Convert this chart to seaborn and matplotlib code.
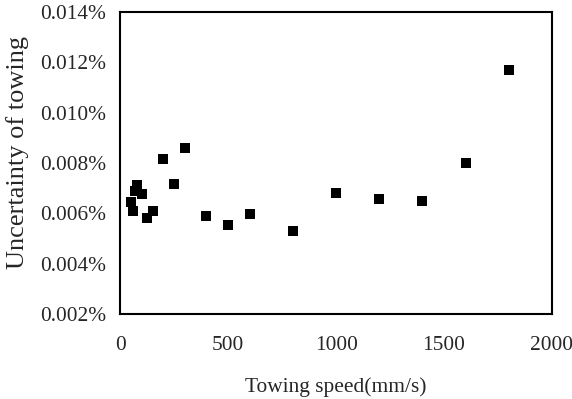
import numpy as np
import pandas as pd
import seaborn as sns
import matplotlib.pyplot as plt
from matplotlib.ticker import FuncFormatter

sns.set_style("white")
plt.rcParams['font.family'] = ['Liberation Serif', 'DejaVu Serif']

# towing speed (mm/s) and uncertainty (%)
speed = [50, 60, 70, 80, 100, 125, 150, 200, 250, 300, 400, 500, 600, 800,
         1000, 1200, 1400, 1600, 1800]
uncertainty = [0.00644, 0.00611, 0.00688, 0.00712, 0.00677, 0.00580, 0.00610,
               0.00814, 0.00717, 0.00859, 0.00590, 0.00553, 0.00597, 0.00529,
               0.00680, 0.00655, 0.00649, 0.00799, 0.01170]

df = pd.DataFrame({"speed": speed, "uncertainty": uncertainty})

fig, ax = plt.subplots(figsize=(5.72, 3.99), dpi=100)
sns.scatterplot(data=df, x="speed", y="uncertainty", marker="s", s=55,
                color="black", edgecolor="black", linewidth=0, ax=ax)

ax.set_xlim(0, 2000)
ax.set_ylim(0.002, 0.014)
ax.set_xticks([0, 500, 1000, 1500, 2000])
ax.set_yticks(np.arange(0.002, 0.0141, 0.002))
ax.yaxis.set_major_formatter(FuncFormatter(lambda v, p: "{:.3f}%".format(v)))
ax.tick_params(axis="both", length=0, labelsize=15.4)
ax.tick_params(axis="x", pad=16)
ax.tick_params(axis="y", pad=10)

ax.set_xlabel("Towing speed(mm/s)", fontsize=15.4)
ax.set_ylabel("Uncertainty of towing", fontsize=19)
ax.xaxis.set_label_coords(0.5, -0.21)
ax.yaxis.set_label_coords(-0.21, 0.535)

for sp in ax.spines.values():
    sp.set_color("black")
    sp.set_linewidth(1.5)

fig.subplots_adjust(left=0.21, right=0.965, top=0.97, bottom=0.213)
fig.savefig("out.png", dpi=100)
